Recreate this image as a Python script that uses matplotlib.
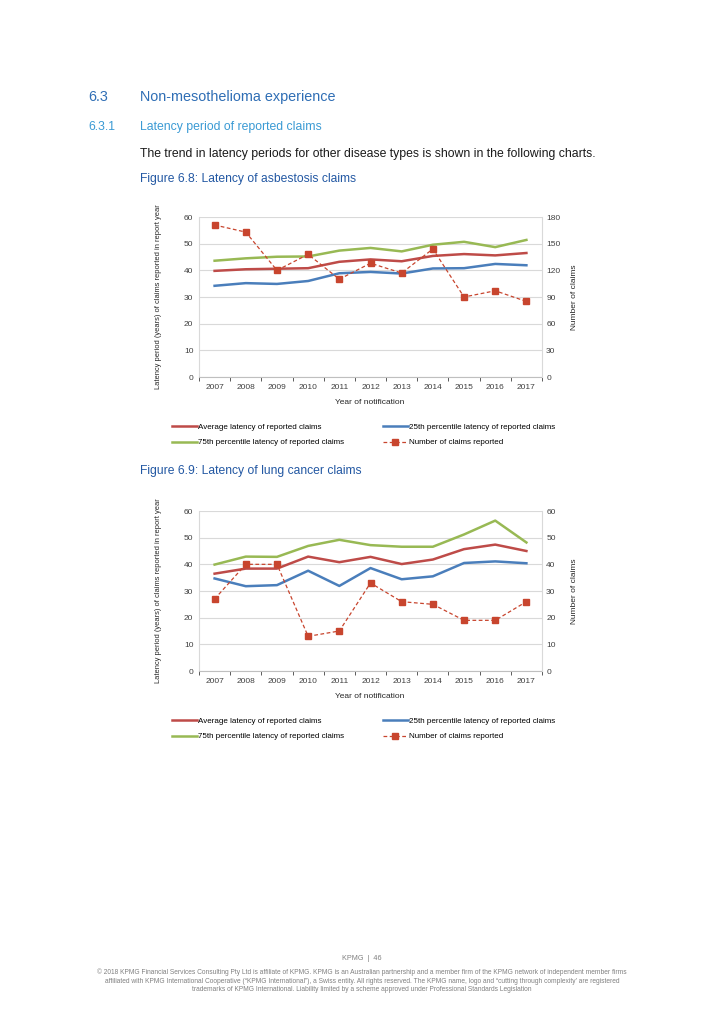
import numpy as np
import matplotlib
matplotlib.use('Agg')
import matplotlib.pyplot as plt
from matplotlib.lines import Line2D

plt.rcParams['font.family'] = ['Liberation Sans', 'DejaVu Sans']

years = ['2007', '2008', '2009', '2010', '2011', '2012', '2013', '2014', '2015', '2016', '2017']

# Figure 6.8: asbestosis
asb_avg = [39.8, 40.4, 40.6, 40.8, 43.2, 44.1, 43.4, 45.4, 46.1, 45.6, 46.5]
asb_p25 = [34.2, 35.2, 34.9, 36.0, 38.9, 39.4, 38.8, 40.7, 40.8, 42.4, 41.9]
asb_p75 = [43.6, 44.5, 45.1, 45.2, 47.4, 48.4, 47.1, 49.6, 50.7, 48.7, 51.4]
asb_claims = [171, 163, 120, 138, 110, 128, 117, 144, 90, 97, 85]

# Figure 6.9: lung cancer
lung_avg = [36.5, 38.4, 38.4, 42.9, 40.8, 42.8, 40.1, 41.8, 45.7, 47.4, 45.0]
lung_p25 = [34.7, 31.8, 32.2, 37.6, 31.9, 38.6, 34.4, 35.5, 40.5, 41.1, 40.4]
lung_p75 = [39.9, 42.9, 42.8, 46.9, 49.2, 47.2, 46.6, 46.6, 51.2, 56.4, 48.2]
lung_claims = [27, 40, 40, 13, 15, 33, 26, 25, 19, 19, 26]

RED = '#BE4B48'
BLUE = '#4A7EBB'
GREEN = '#98B954'
CLAIM = '#C8452E'
GRID = '#D9D9D9'

W, H = 724, 1024
fig = plt.figure(figsize=(W / 100, H / 100), dpi=100)


def fy(py):
	return 1 - py / H


def fx(px):
	return px / W


def chart(top, avg, p25, p75, claims, rmax, rstep):
	ax = fig.add_axes([fx(199), fy(top + 160), fx(343), 160 / H])
	x = np.arange(len(years))
	ax.set_xlim(-0.5, len(years) - 0.5)
	ax.set_ylim(0, 60)
	ax.set_yticks(np.arange(0, 61, 10))
	ax.grid(axis='y', color=GRID, lw=0.8)
	ax.set_axisbelow(True)
	ax.plot(x, avg, color=RED, lw=1.8, zorder=3)
	ax.plot(x, p25, color=BLUE, lw=1.8, zorder=3)
	ax.plot(x, p75, color=GREEN, lw=1.8, zorder=3)

	ax.set_xticks(x)
	ax.set_xticklabels(years)
	ax.set_xticks(np.arange(-0.5, len(years)), minor=True)
	ax.tick_params(axis='x', which='major', length=0, labelsize=6, pad=5)
	ax.tick_params(axis='x', which='minor', length=3, color='#BFBFBF', direction='out')
	ax.tick_params(axis='y', length=0, labelsize=6, pad=4, colors='#404040')
	ax.tick_params(axis='x', colors='#404040', which='both')
	for s in ['top', 'right']:
		ax.spines[s].set_visible(False)
	ax.spines['left'].set_color(GRID)
	ax.spines['bottom'].set_color('#BFBFBF')

	ax2 = ax.twinx()
	ax2.set_ylim(0, rmax)
	ax2.set_yticks(np.arange(0, rmax + 1, rstep))
	ax2.plot(x, claims, color=CLAIM, lw=0.9, ls=(0, (3, 2)), marker='s', ms=4.5, zorder=4)
	ax2.tick_params(axis='y', length=0, labelsize=6, pad=3, colors='#404040')
	for s in ['top', 'left', 'bottom']:
		ax2.spines[s].set_visible(False)
	ax2.spines['right'].set_color(GRID)

	fig.text(fx(158), fy(top + 80), 'Latency period (years) of claims reported in report year',
		rotation=90, ha='center', va='center', fontsize=5.4, color='#262626')
	fig.text(fx(575), fy(top + 80), 'Number of claims',
		rotation=90, ha='center', va='center', fontsize=6, color='#262626')
	fig.text(fx(370), fy(top + 186), 'Year of notification',
		ha='center', va='center', fontsize=6, color='#262626')

	handles = [
		Line2D([], [], color=RED, lw=1.8),
		Line2D([], [], color=GREEN, lw=1.8),
		Line2D([], [], color=BLUE, lw=1.8),
		Line2D([], [], color=CLAIM, lw=0.9, ls=(0, (3, 2)), marker='s', ms=4.5),
	]
	labels = ['Average latency of reported claims', '75th percentile latency of reported claims',
		'25th percentile latency of reported claims', 'Number of claims reported']
	fig.legend(handles, labels, ncol=2, frameon=False, fontsize=5.8,
		loc='upper left', bbox_to_anchor=(fx(172), fy(top + 206)),
		handlelength=3.1, handletextpad=0.15, columnspacing=4.8, labelspacing=1.0,
		borderpad=0, borderaxespad=0)


chart(217, asb_avg, asb_p25, asb_p75, asb_claims, 180, 30)
chart(511, lung_avg, lung_p25, lung_p75, lung_claims, 60, 10)

HEAD = '#2F6EB5'
SUB = '#3A9AD4'
FIG = '#2358A3'

fig.text(fx(88), fy(97), '6.3', fontsize=10.4, color=HEAD, va='center')
fig.text(fx(140), fy(97), 'Non-mesothelioma experience', fontsize=10.4, color=HEAD, va='center')
fig.text(fx(88), fy(127), '6.3.1', fontsize=8.8, color=SUB, va='center')
fig.text(fx(140), fy(127), 'Latency period of reported claims', fontsize=8.8, color=SUB, va='center')
fig.text(fx(140), fy(154), 'The trend in latency periods for other disease types is shown in the following charts.',
	fontsize=8.8, color='#1A1A1A', va='center')
fig.text(fx(140), fy(179), 'Figure 6.8: Latency of asbestosis claims', fontsize=8.7, color=FIG, va='center')
fig.text(fx(140), fy(471), 'Figure 6.9: Latency of lung cancer claims', fontsize=8.7, color=FIG, va='center')

fig.text(0.5, fy(958), 'KPMG  |  46', fontsize=5.2, color='#808080', ha='center', va='center')
foot = ('\u00a9 2018 KPMG Financial Services Consulting Pty Ltd is affiliate of KPMG. KPMG is an Australian partnership and a member firm of the KPMG network of independent member firms\n'
	'affiliated with KPMG International Cooperative (\u201cKPMG International\u201d), a Swiss entity. All rights reserved. The KPMG name, logo and \u201ccutting through complexity\u2019 are registered\n'
	'trademarks of KPMG International. Liability limited by a scheme approved under Professional Standards Legislation')
fig.text(0.5, fy(981), foot, fontsize=4.8, color='#808080', ha='center', va='center', linespacing=1.3)

fig.savefig('out.png', dpi=100)
